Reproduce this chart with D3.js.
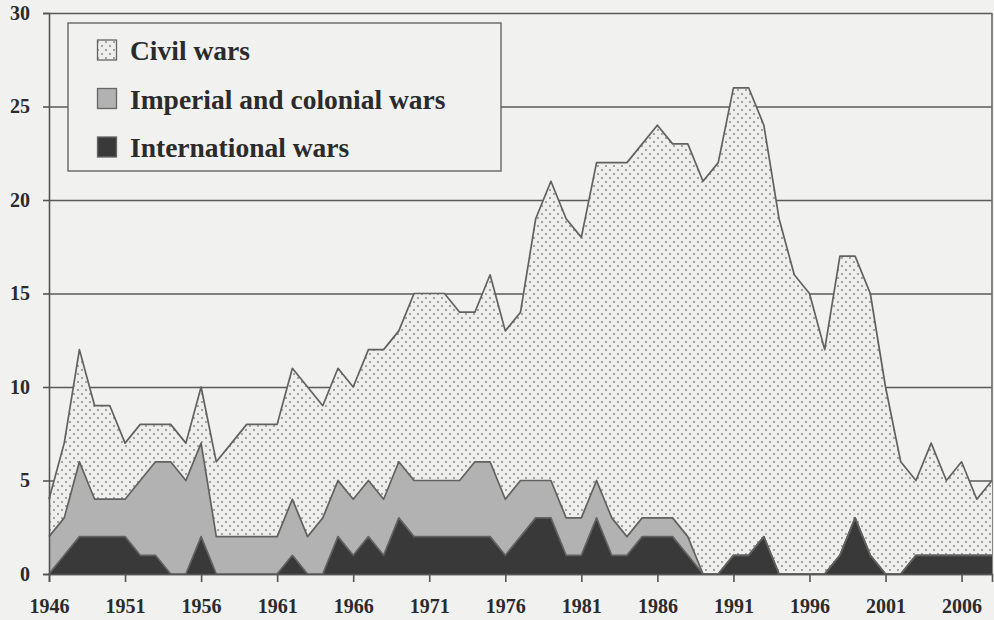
<!DOCTYPE html>
<html>
<head>
<meta charset="utf-8">
<script src="https://cdn.jsdelivr.net/npm/d3@7"></script>
<style>
  body { margin: 0; background: #f1f1f0; }
  svg { display: block; }
  .tick text { font-family: "Liberation Serif", "Times New Roman", serif; font-weight: bold; font-size: 20px; fill: #2b2b2b; }
  .legend text { font-family: "Liberation Serif", "Times New Roman", serif; font-weight: bold; font-size: 27.5px; fill: #2b2b2b; }
</style>
</head>
<body>
<svg id="chart" width="994" height="620"></svg>
<script>
// years 1946 - 2008
var years = d3.range(1946, 2009);

var international = [0,1,2,2,2,2,1,1,0,0, 2,0,0,0,0,0,1,0,0,2, 1,2,1,3,2,2,2,2,2,2,
  1,2,3,3,1,1,3,1,1,2, 2,2,1,0,0,1,1,2,0,0, 0,0,1,3,1,0,0,1,1,1, 1,1,1];
var imperial = [2,2,4,2,2,2,4,5,6,5, 5,2,2,2,2,2,3,2,3,3, 3,3,3,3,3,3,3,3,4,4,
  3,3,2,2,2,2,2,2,1,1, 1,1,1,0,0,0,0,0,0,0, 0,0,0,0,0,0,0,0,0,0, 0,0,0];
var civil = [2,4,6,5,5,3,3,2,2,2, 3,4,5,6,6,6,7,8,6,6, 6,7,8,7,10,10,10,9,8,10,
  9,9,14,16,16,15,17,19,20,20, 21,20,21,21,22,25,25,22,19,16, 15,12,16,14,14,10,6,4,6,4, 5,3,4];

var seriesNames = ["International wars", "Imperial and colonial wars", "Civil wars"];
var legendNames = ["Civil wars", "Imperial and colonial wars", "International wars"];
var yTicks = [0, 5, 10, 15, 20, 25, 30];
var xTicks = [1946, 1951, 1956, 1961, 1966, 1971, 1976, 1981, 1986, 1991, 1996, 2001, 2006];

var data = years.map(function(y, i) {
  return { year: y, "International wars": international[i], "Imperial and colonial wars": imperial[i], "Civil wars": civil[i] };
});

var fills = {
  "International wars": "#393939",
  "Imperial and colonial wars": "#b2b2b2",
  "Civil wars": "url(#dots)"
};

var svg = d3.select("#chart");

// dotted pattern for civil wars
var defs = svg.append("defs");
var pat = defs.append("pattern")
  .attr("id", "dots")
  .attr("patternUnits", "userSpaceOnUse")
  .attr("width", 8)
  .attr("height", 8);
pat.append("rect").attr("width", 8).attr("height", 8).attr("fill", "#eeeeed");
pat.append("circle").attr("cx", 2).attr("cy", 2).attr("r", 0.9).attr("fill", "#7e7e7e");
pat.append("circle").attr("cx", 6).attr("cy", 6).attr("r", 0.9).attr("fill", "#7e7e7e");

// plot box (note: "top" is taken by window.top)
var plotLeft = 49, plotRight = 992, plotTop = 13, plotBottom = 574;

var xScale = d3.scaleLinear()
  .domain([1946, 2008])
  .range([plotLeft, plotRight]);

var yScale = d3.scaleLinear()
  .domain([0, 30])
  .range([plotBottom, plotTop]);

// grid lines
svg.append("g")
  .attr("class", "grid")
  .attr("transform", "translate(" + plotLeft + ",0)")
  .call(d3.axisLeft(yScale)
    .tickValues(yTicks)
    .tickSize(-(plotRight - plotLeft))
    .tickFormat(""))
  .call(function(g) { g.select(".domain").remove(); })
  .selectAll("line")
    .attr("stroke", "#5a5a5a")
    .attr("stroke-width", 1.6);

// right border
svg.append("line")
  .attr("x1", plotRight).attr("x2", plotRight)
  .attr("y1", plotTop).attr("y2", plotBottom)
  .attr("stroke", "#6a6a6a")
  .attr("stroke-width", 1.6);

var stack = d3.stack().keys(seriesNames);
var layers = stack(data);

var area = d3.area()
  .x(function(d) { return xScale(d.data.year); })
  .y0(function(d) { return yScale(d[0]); })
  .y1(function(d) { return yScale(d[1]); });

var topLine = d3.line()
  .x(function(d) { return xScale(d.data.year); })
  .y(function(d) { return yScale(d[1]); });

svg.selectAll(".layer")
  .data(layers.slice().reverse())
  .enter()
  .append("path")
  .attr("class", "layer")
  .attr("d", area)
  .attr("fill", function(d) { return fills[d.key]; });

svg.selectAll(".edge")
  .data(layers)
  .enter()
  .append("path")
  .attr("class", "edge")
  .attr("d", topLine)
  .attr("fill", "none")
  .attr("stroke", "#616161")
  .attr("stroke-width", 1.7)
  .attr("stroke-linejoin", "round");

// y axis
var yAxis = svg.append("g")
  .attr("transform", "translate(" + plotLeft + ",0)")
  .call(d3.axisLeft(yScale).tickValues(yTicks).tickSize(6).tickPadding(13));
yAxis.select(".domain").attr("stroke", "#555").attr("stroke-width", 1.6);
yAxis.selectAll("line").attr("stroke", "#555").attr("stroke-width", 1.6);

// x axis
var xAxis = svg.append("g")
  .attr("transform", "translate(0," + plotBottom + ")")
  .call(d3.axisBottom(xScale).tickValues(xTicks).tickFormat(d3.format("d")).tickSize(8).tickPadding(17));
xAxis.select(".domain").attr("stroke", "#555").attr("stroke-width", 1.6);
xAxis.selectAll("line").attr("stroke", "#555").attr("stroke-width", 1.6);

// legend
var legend = svg.append("g").attr("class", "legend");
legend.append("rect")
  .attr("x", 68).attr("y", 23)
  .attr("width", 433).attr("height", 148)
  .attr("fill", "#f1f1f0")
  .attr("stroke", "#666")
  .attr("stroke-width", 1.4);

var legendFills = [fills["Civil wars"], fills["Imperial and colonial wars"], fills["International wars"]];

legendNames.forEach(function(name, i) {
  var ly = 40 + i * 48.5;
  legend.append("rect")
    .attr("x", 97.5).attr("y", ly)
    .attr("width", 19).attr("height", 20)
    .attr("fill", legendFills[i])
    .attr("stroke", "#666")
    .attr("stroke-width", 1.3);
  legend.append("text")
    .attr("x", 130)
    .attr("y", ly + 20)
    .text(name);
});
</script>
</body>
</html>
